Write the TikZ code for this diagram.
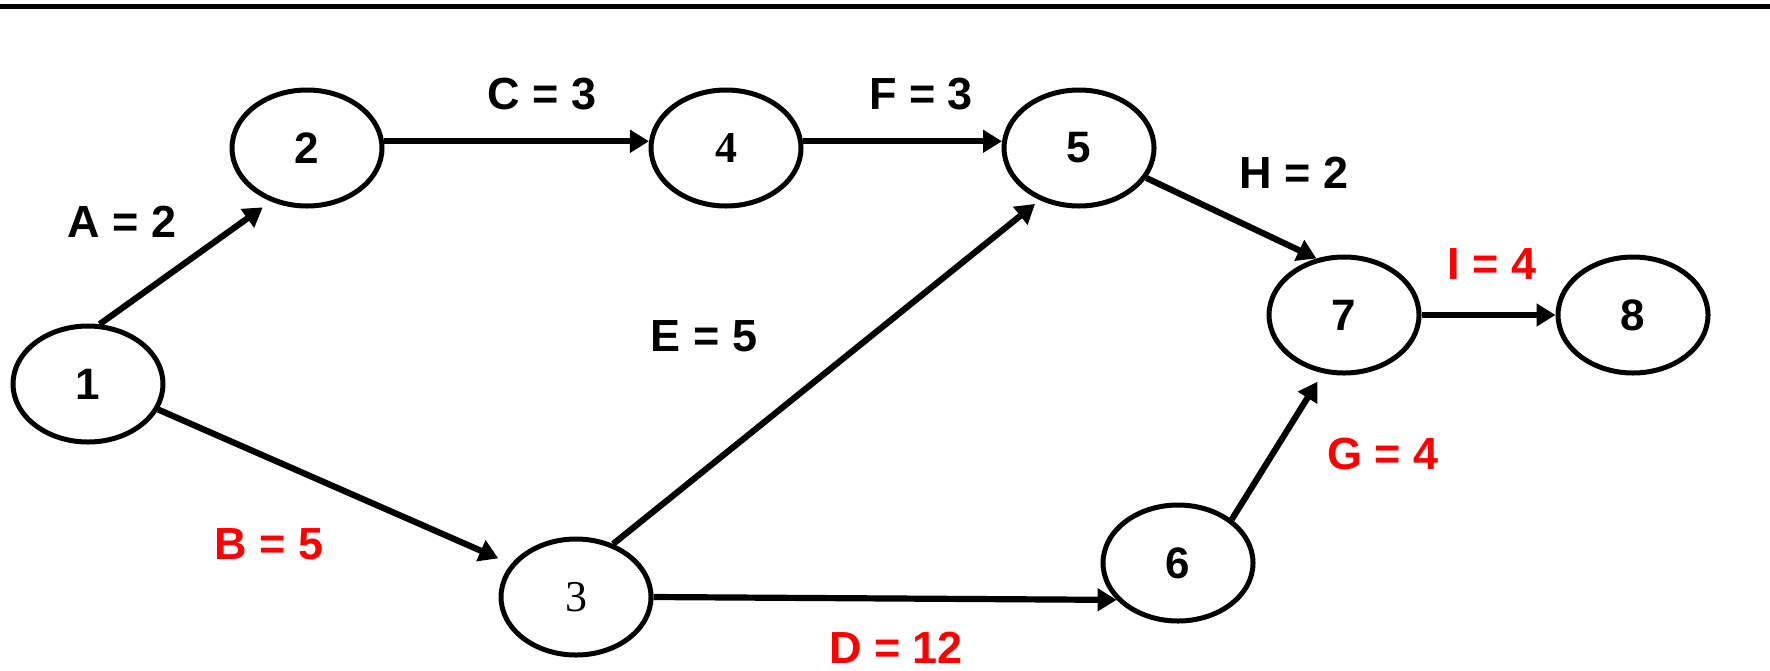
\documentclass[tikz,border=0pt]{standalone}
\usepackage{fontspec}
\setmainfont{Liberation Sans}
\newfontfamily\serifnum{Liberation Serif}
\usetikzlibrary{shapes.geometric,arrows.meta}
\tikzset{
  evt/.style={ellipse, draw, line width=2.5pt, minimum width=75pt, minimum height=58pt, inner sep=0pt, font=\fontsize{22pt}{24pt}\selectfont\bfseries},
  act/.style={line width=3.1pt, -{Triangle[length=9.5pt,width=11pt]}},
  lbl/.style={font=\fontsize{22.5pt}{24pt}\selectfont\bfseries, inner sep=0pt, text depth=0pt},
  crit/.style={lbl, text=red}
}
\begin{document}
\begin{tikzpicture}[x=0.5pt,y=-0.5pt]
\useasboundingbox (0,0) rectangle (1770,670);
\coordinate (tl) at (0,6.5);
\coordinate (tr) at (1770,6.5);
\draw[line width=2.2pt] (tl) -- (tr);

\node[evt] (n1) at (88,384) {1};
\node[evt] (n2) at (307,148) {2};
\node[evt] (n4) at (726,148) {\serifnum\bfseries 4};
\node[evt] (n5) at (1079,148) {5};
\node[evt] (n7) at (1344,315) {7};
\node[evt] (n8) at (1633,315) {8};
\node[evt] (n3) at (576,597) {\serifnum\mdseries 3};
\node[evt] (n6) at (1178,563) {6};

\draw[act, shorten >=5pt] (n1.79) -- (n2.236);
\draw[act, shorten >=7pt] (n1.340) -- (n3.153);
\draw[act] (n2.5) -- (n4.175);
\draw[act] (n4.5) -- (n5.175);
\draw[act, shorten >=3pt] (n3.55) -- (n5.233);
\draw[act] (n3.east) -- (n6.211);
\draw[act] (n5.336) -- (n7.116);
\draw[act, shorten >=5pt] (n6.39) -- (n7.250);
\draw[act] (n7.east) -- (n8.west);

\node[lbl] (la) at (122,222) {A = 2};
\node[lbl] (lc) at (542,94) {C = 3};
\node[lbl] (lf) at (921,94) {F = 3};
\node[lbl] (lh) at (1294,173) {H = 2};
\node[crit] (li) at (1492,264) {I = 4};
\node[lbl] (le) at (704,336) {E = 5};
\node[crit] (lg) at (1383,454) {G = 4};
\node[crit] (lb) at (269,544) {B = 5};
\node[crit] (ld) at (896,648) {D = 12};
\end{tikzpicture}
\end{document}
